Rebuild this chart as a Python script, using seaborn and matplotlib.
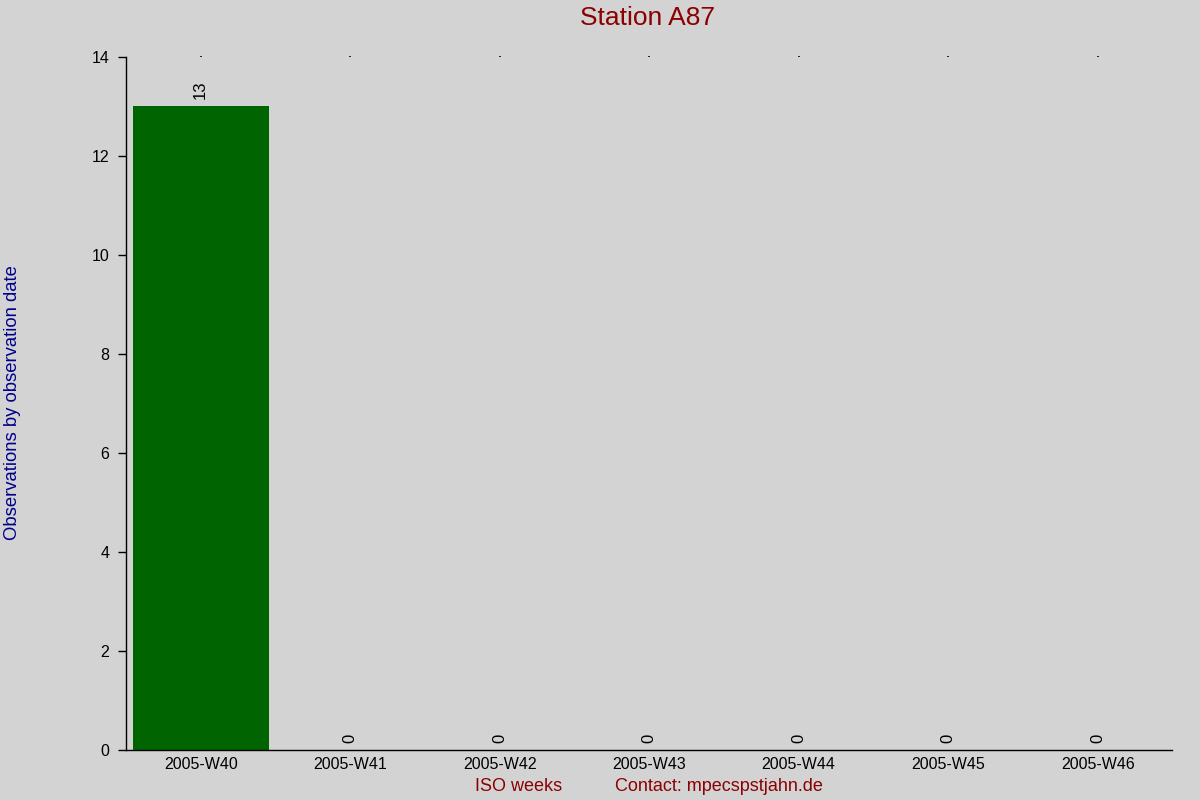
import pandas as pd
import seaborn as sns
import matplotlib.pyplot as plt

weeks = ['2005-W40', '2005-W41', '2005-W42', '2005-W43', '2005-W44', '2005-W45', '2005-W46']
counts = [13, 0, 0, 0, 0, 0, 0]

df = pd.DataFrame({'week': weeks, 'count': counts})

sns.set_style('white')
plt.rcParams['font.family'] = ['Liberation Sans', 'DejaVu Sans']

fig = plt.figure(figsize=(12, 8), dpi=100, facecolor='#d3d3d3')
ax = fig.add_axes([0.105, 0.0625, 0.872, 0.8665])
ax.set_facecolor('#d3d3d3')

sns.barplot(data=df, x='week', y='count', color='#006400', saturation=1, width=0.91,
            edgecolor='none', linewidth=0, ax=ax)

# valores rotacionados acima das barras
for i, v in enumerate(counts):
    ax.text(i, v + 0.15, str(v), rotation=90, ha='center', va='bottom', fontsize=12, color='black')

ax.set_xlim(-0.5, 6.5)
ax.set_ylim(0, 14)
ax.set_yticks([0, 2, 4, 6, 8, 10, 12, 14])

for s in ['top', 'right']:
    ax.spines[s].set_visible(False)
ax.spines['left'].set_color('black')
ax.spines['bottom'].set_color('black')
ax.spines['left'].set_linewidth(1)
ax.spines['bottom'].set_linewidth(1)

ax.tick_params(axis='y', left=True, length=6, width=1, labelsize=11.5, colors='black', pad=6)
ax.tick_params(axis='x', bottom=False, top=True, length=1, width=1.2, labelsize=11.5, colors='black', pad=4)

ax.set_xlabel('')
ax.set_ylabel('')

fig.text(0.54, 0.978, 'Station A87', color='#8b0000', fontsize=19, ha='center', va='center')
fig.text(0.003, 0.497, 'Observations by observation date', rotation=90, color='#00008b',
         fontsize=13.3, ha='left', va='center')
fig.text(0.432, 0.017, 'ISO weeks', color='#8b0000', fontsize=13, ha='center', va='center')
fig.text(0.599, 0.017, 'Contact: mpecspstjahn.de', color='#8b0000', fontsize=13, ha='center', va='center')

fig.savefig('out.png', dpi=100, facecolor='#d3d3d3')
